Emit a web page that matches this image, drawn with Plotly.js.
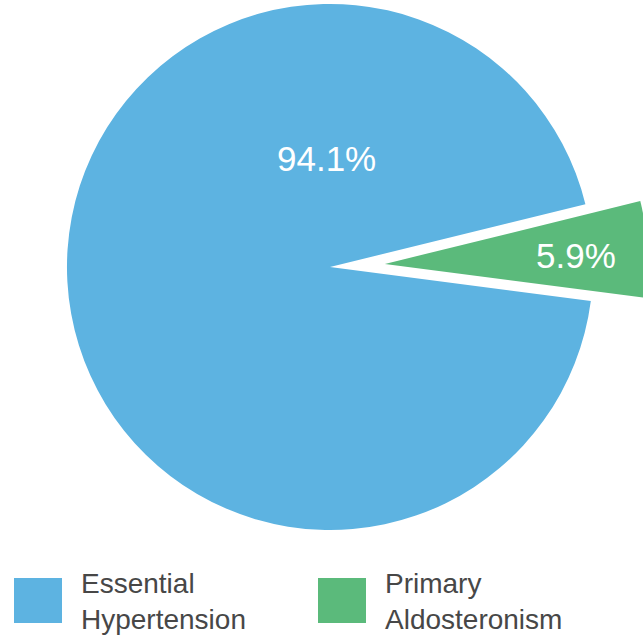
<!DOCTYPE html>
<html>
<head>
<meta charset="utf-8">
<script src="https://cdn.plot.ly/plotly-3.0.1.min.js"></script>
<style>
html,body{margin:0;padding:0;width:643px;height:640px;overflow:hidden;background:#ffffff;position:relative;}
#chart{position:absolute;}
</style>
</head>
<body>
<div id="chart"></div>
<script>
// ---- data ----
const categories = ['Primary Aldosteronism', 'Essential Hypertension'];
const values = [5.9, 94.1];
const colors = ['#5BBA7B', '#5DB3E1'];
const pulls = [0.209, 0];
// legend (order as shown), each split in two lines
const legendOrder = [1, 0];
const legendLines = {
  'Essential Hypertension': ['Essential', 'Hypertension'],
  'Primary Aldosteronism': ['Primary', 'Aldosteronism']
};

// ---- page geometry (pixels in the 643x640 window) ----
const L = 12, T = -51, W = 636, H = 720;
const chart = document.getElementById('chart');
chart.style.left = L + 'px';
chart.style.top = T + 'px';
const px = x => (x - L) / W;
const py = y => 1 - (y - T) / H;

const FONT = 'Liberation Sans, Arial, sans-serif';

// percent labels
const pctPos = {
  'Essential Hypertension': [326, 158],
  'Primary Aldosteronism': [576, 255]
};
const annotations = [];
categories.forEach((c, i) => {
  const p = pctPos[c];
  annotations.push({
    xref: 'paper', yref: 'paper', x: px(p[0]), y: py(p[1]),
    xanchor: 'center', yanchor: 'middle', showarrow: false,
    text: values[i].toFixed(1) + '%',
    font: {family: FONT, size: 35, color: '#ffffff'}
  });
});

// legend built from categories/colors
const shapes = [];
const legendX = [14, 318];
legendOrder.forEach((idx, k) => {
  const x0 = legendX[k];
  shapes.push({
    type: 'rect', xref: 'paper', yref: 'paper',
    x0: px(x0), x1: px(x0 + 48), y0: py(623), y1: py(578),
    fillcolor: colors[idx], line: {width: 0}
  });
  annotations.push({
    xref: 'paper', yref: 'paper', x: px(x0 + 65), y: py(601),
    xanchor: 'left', yanchor: 'middle', align: 'left', showarrow: false,
    text: legendLines[categories[idx]].join('<br>'),
    font: {family: FONT, size: 28, color: '#474747'}
  });
});

const trace = {
  type: 'pie',
  labels: categories,
  values: values,
  sort: false,
  direction: 'clockwise',
  rotation: 90 - 3.2 - values[0] / 100 * 360 / 2,
  pull: pulls,
  marker: {colors: colors, line: {width: 0}},
  textinfo: 'none',
  hoverinfo: 'none',
  domain: {x: [0, 1], y: [(H - 636) / H, 1]},
  showlegend: false
};

const layout = {
  width: W, height: H,
  margin: {l: 0, r: 0, t: 0, b: 0, pad: 0},
  paper_bgcolor: 'rgba(0,0,0,0)',
  plot_bgcolor: 'rgba(0,0,0,0)',
  showlegend: false,
  shapes: shapes,
  annotations: annotations
};

Plotly.newPlot(chart, [trace], layout, {displayModeBar: false, staticPlot: true});
</script>
</body>
</html>
